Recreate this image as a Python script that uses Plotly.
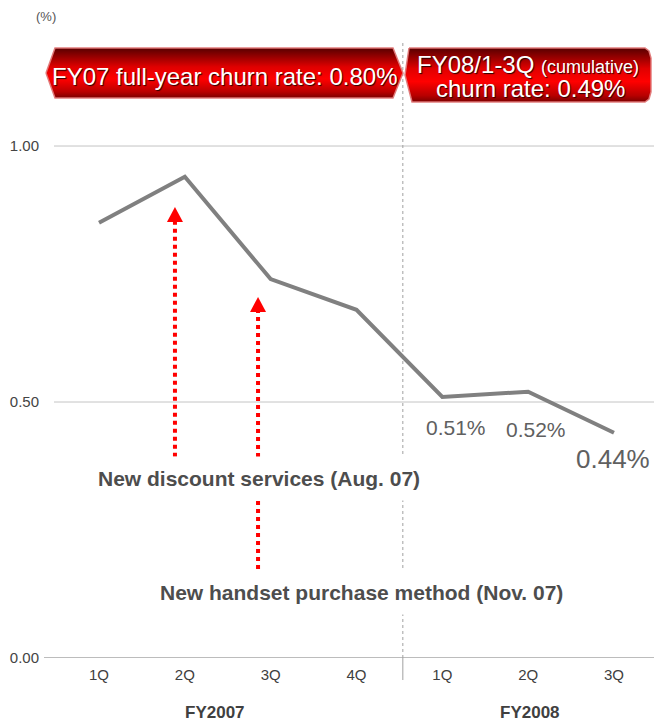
import plotly.graph_objects as go

# ---- data -------------------------------------------------------------
quarters = ["1Q", "2Q", "3Q", "4Q", "1Q", "2Q", "3Q"]
fiscal_years = ["FY2007", "FY2008"]
fiscal_year_centres = [1.35, 5.02]          # label position in quarter units
churn_rate = [0.85, 0.94, 0.74, 0.68, 0.51, 0.52, 0.44]   # %
labelled_points = [4, 5, 6]
fy07_full_year_rate = 0.80
fy08_cumulative_rate = 0.49
y_ticks = [0.0, 0.5, 1.0]

events = ["New discount services (Aug. 07)",
          "New handset purchase method (Nov. 07)"]
event_arrow_x = [0.885, 1.853]      # quarter units
event_arrow_tip = [0.881, 0.705]    # % axis
event_arrow_base = [0.393, 0.174]   # % axis
event_label_x = [1.864, 3.053]
event_label_y = [0.350, 0.127]

year_split = 3.54                   # boundary between FY2007 and FY2008

# ---- layout geometry --------------------------------------------------
W, H = 654, 724
ML, MR, MT, MB = 44, 0, 30, 66
PW, PH = W - ML - MR, H - MT - MB
X_RANGE = [-0.6408, 6.4663]
Y_RANGE = [0.0, 1.2266]

FONT = "Liberation Sans, Arial, sans-serif"


def xd(px):
    """pixel column -> quarter units"""
    return X_RANGE[0] + (px - ML) / PW * (X_RANGE[1] - X_RANGE[0])


def yd(py):
    """pixel row -> % axis units"""
    return Y_RANGE[1] - (py - MT) / PH * (Y_RANGE[1] - Y_RANGE[0])


def ypaper(py):
    """pixel row -> paper fraction"""
    return (H - MB - py) / PH


fig = go.Figure()

# ---- red banners (vertical gradient fill) ----------------------------
banner_scale = [[0.0, "#7a0000"], [0.12, "#b80000"], [0.38, "#ff0000"],
                [0.62, "#e00000"], [1.0, "#580000"]]
left_banner = [(46, 73), (55, 48), (393, 48), (403, 73), (393, 98), (55, 98), (46, 73)]
right_banner = [(409, 48), (645, 48), (649, 51), (651, 58), (651, 92), (649, 99),
                (645, 102), (412, 102), (405, 75), (409, 48)]
for outline in (left_banner, right_banner):
    fig.add_trace(go.Scatter(
        x=[xd(p[0]) for p in outline], y=[yd(p[1]) for p in outline],
        mode="lines", fill="toself",
        fillgradient=dict(type="vertical", colorscale=banner_scale),
        line=dict(color="rgba(225,120,120,0.95)", width=1.5),
        hoverinfo="skip", showlegend=False))

# ---- churn rate line --------------------------------------------------
fig.add_trace(go.Scatter(
    x=list(range(len(quarters))), y=churn_rate, mode="lines",
    line=dict(color="#808080", width=4), hoverinfo="skip", showlegend=False))

shapes = []
# horizontal grid lines
for t in y_ticks:
    x0 = xd(43) if t == 0 else xd(54)
    shapes.append(dict(type="line", xref="x", yref="y", x0=x0, x1=X_RANGE[1],
                       y0=t, y1=t, layer="below",
                       line=dict(color="#a6a6a6" if t == 0 else "#c4c4c4",
                                 width=1.5 if t == 0 else 1)))
# fiscal-year separator
shapes.append(dict(type="line", xref="x", yref="y", x0=year_split, x1=year_split,
                   y0=0, y1=yd(42), layer="below",
                   line=dict(color="#a0a0a0", width=1, dash="dot")))
shapes.append(dict(type="line", xref="x", yref="paper", x0=year_split, x1=year_split,
                   y0=0, y1=ypaper(680), layer="below",
                   line=dict(color="#a0a0a0", width=1)))

# event arrows: dotted shaft plus triangular head
head_w = 8 * (X_RANGE[1] - X_RANGE[0]) / PW
head_h = 15 * (Y_RANGE[1] - Y_RANGE[0]) / PH
for ax, tip, base in zip(event_arrow_x, event_arrow_tip, event_arrow_base):
    shapes.append(dict(type="line", xref="x", yref="y", x0=ax, x1=ax,
                       y0=base, y1=tip - head_h,
                       line=dict(color="#ff0000", width=4, dash="dot")))
    shapes.append(dict(type="path", xref="x", yref="y",
                       path=f"M{ax - head_w},{tip - head_h} L{ax + head_w},{tip - head_h} "
                            f"L{ax},{tip} Z",
                       fillcolor="#ff0000", line=dict(width=0)))

annotations = []
# banner captions
shadow = "1px 1px 1px #2a0000"
annotations.append(dict(
    x=xd(225), y=yd(76), xref="x", yref="y", showarrow=False,
    text=f"FY07 full-year churn rate: {fy07_full_year_rate:.2f}%",
    font=dict(family=FONT, size=24, color="white", shadow=shadow)))
annotations.append(dict(
    x=xd(528), y=yd(64), xref="x", yref="y", showarrow=False,
    text="FY08/1-3Q <span style='font-size:18px'>(cumulative)</span>",
    font=dict(family=FONT, size=24, color="white", shadow=shadow)))
annotations.append(dict(
    x=xd(530), y=yd(88), xref="x", yref="y", showarrow=False,
    text=f"churn rate: {fy08_cumulative_rate:.2f}%",
    font=dict(family=FONT, size=24, color="white", shadow=shadow)))

# value labels for FY2008 quarters
label_style = {4: (14, -31, 21), 5: (8, -38, 21), 6: (-1, -26, 26)}
for i in labelled_points:
    dx, dy, size = label_style[i]
    annotations.append(dict(
        x=i, y=churn_rate[i], xref="x", yref="y", showarrow=False,
        xshift=dx, yshift=dy, text=f"{churn_rate[i]:.2f}%",
        font=dict(family=FONT, size=size, color="#606060")))

# event captions (white boxes break the dotted lines behind them)
for txt, ex, ey in zip(events, event_label_x, event_label_y):
    annotations.append(dict(
        x=ex, y=ey, xref="x", yref="y", showarrow=False, text=f"<b>{txt}</b>",
        bgcolor="white", borderpad=10,
        font=dict(family=FONT, size=21, color="#4d4d4d")))

# fiscal-year group labels
for name, cx in zip(fiscal_years, fiscal_year_centres):
    annotations.append(dict(
        x=cx, y=ypaper(712), xref="x", yref="paper", xanchor="center",
        yanchor="middle", showarrow=False, text=f"<b>{name}</b>",
        font=dict(family=FONT, size=17, color="#404040")))

# unit label
annotations.append(dict(
    x=(46 - ML) / PW, y=ypaper(17), xref="paper", yref="paper",
    xanchor="center", yanchor="middle", showarrow=False, text="(%)",
    font=dict(family=FONT, size=13, color="#555555")))

fig.update_layout(
    width=W, height=H,
    margin=dict(l=ML, r=MR, t=MT, b=MB),
    paper_bgcolor="white", plot_bgcolor="white",
    shapes=shapes, annotations=annotations,
    xaxis=dict(range=X_RANGE, tickmode="array", tickvals=list(range(len(quarters))),
               ticktext=quarters, showgrid=False, zeroline=False, showline=False,
               ticks="", ticklabelstandoff=6,
               tickfont=dict(family=FONT, size=15, color="#404040")),
    yaxis=dict(range=Y_RANGE, tickmode="array", tickvals=y_ticks, tickformat=".2f",
               showgrid=False, zeroline=False, showline=False, ticks="",
               ticklabelstandoff=4,
               tickfont=dict(family=FONT, size=15, color="#444444")),
)

fig.write_html("out.html")
